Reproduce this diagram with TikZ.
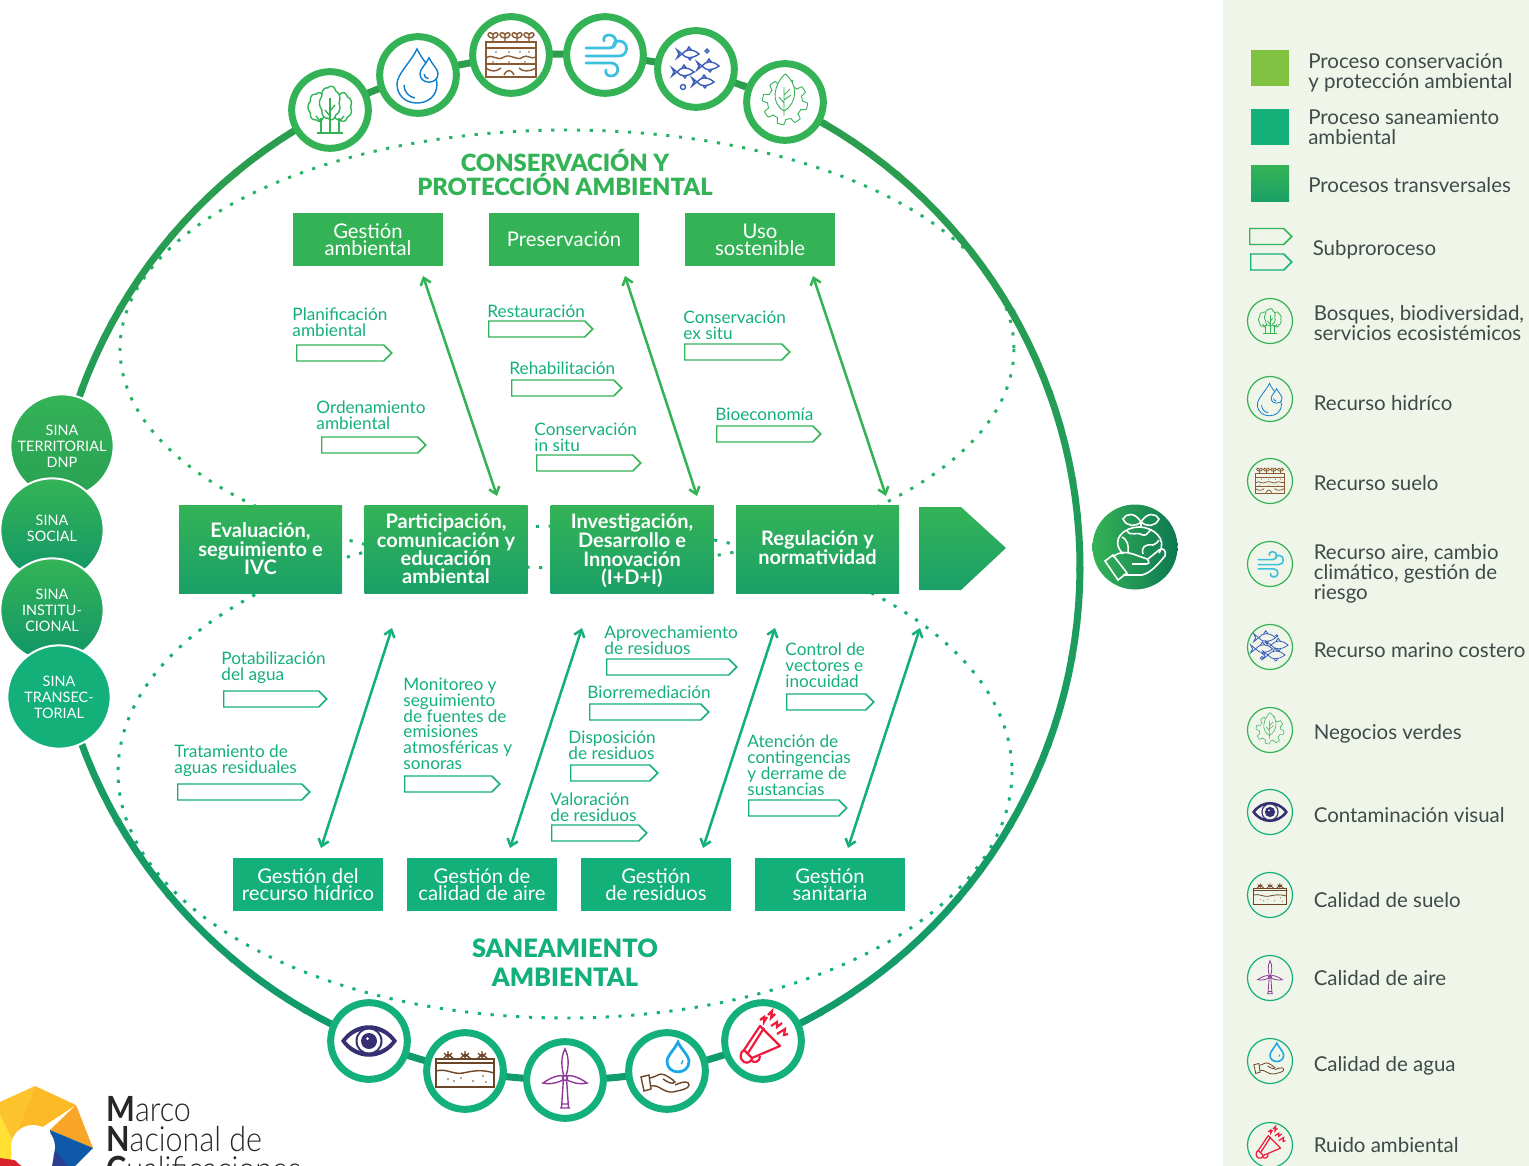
\documentclass[tikz,border=0pt]{standalone}
\usepackage{fontspec}
\setmainfont{Lato}
\newfontfamily\logofont{Lato}[UprightFont=* Light,BoldFont=* Bold]
\newfontfamily\heavyfont{Lato}[UprightFont=* Black]
\usepackage{tikz}
\usetikzlibrary{arrows.meta,positioning,calc,shapes.symbols}

\definecolor{consgreen}{HTML}{34B356}
\definecolor{sanegreen}{HTML}{13B07A}
\definecolor{darkgreen}{HTML}{1AA068}
\definecolor{panelbg}{HTML}{EFF5E8}
\definecolor{legendtext}{HTML}{3F4A4A}
\definecolor{lime}{HTML}{7FC242}
\definecolor{soilbrown}{HTML}{8A5A32}
\definecolor{dropblue}{HTML}{0F7CCB}
\definecolor{windblue}{HTML}{3DBFE0}
\definecolor{fishblue}{HTML}{3A5DB8}
\definecolor{eyeblue}{HTML}{372F73}
\definecolor{windpurple}{HTML}{8F3A98}
\definecolor{handbrown}{HTML}{6B4526}
\definecolor{lightdrop}{HTML}{1AA7E8}
\definecolor{noisered}{HTML}{ED1C3C}
\colorlet{iconbg}{white}

\newcommand{\dropshape}{(0,-27) .. controls (-6,-14) and (-20,-2) .. (-20,8) .. controls (-20,20) and (-11,27) .. (0,27) .. controls (11,27) and (20,20) .. (20,8) .. controls (20,-2) and (6,-14) .. (0,-27) -- cycle}
\newcommand{\blob}[4]{\draw[consgreen, fill=iconbg, domain=0:360, samples=97] plot ({#1+(#3+1.5*abs(sin(3.5*\x)))*cos(\x)},{#2+(#4+1.5*abs(sin(3.5*\x)))*sin(\x)}) -- cycle;}

\tikzset{
	boxtop/.style={fill=consgreen, text=white, minimum width=112.5pt, minimum height=39.75pt, align=center, inner sep=0pt, font=\fontsize{15.2}{12.9}\selectfont},
	boxbot/.style={boxtop, fill=sanegreen},
	boxmid/.style={top color=consgreen, bottom color=darkgreen, text=white, minimum width=122.25pt, minimum height=66pt, align=center, inner sep=0pt, font=\fontsize{15}{13.8}\selectfont\bfseries},
	sub/.style={draw=#1, line width=1.1pt, fill=white, signal, signal to=east, signal pointer angle=90, inner sep=0pt, minimum height=12pt, anchor=west},
	lab/.style={text=sanegreen, align=left, inner sep=0pt, anchor=north west, xshift=-.6pt, yshift=-1.1pt, font=\fontsize{12.9}{11.9}\selectfont},
	title/.style={align=center, inner sep=0pt, font=\fontsize{17.8}{18.4}\heavyfont},
	dots/.style={draw=#1, line width=2.2pt, dash pattern=on 2.4pt off 7.2pt},
	link/.style={draw=#1, line width=1.9pt, <->, >={Straight Barb[length=5pt,width=8pt]}},
	iconring/.style={circle, draw=#1, fill=white, line width=5.25pt, minimum size=57.5pt, inner sep=0pt},
	legring/.style={circle, draw=#1, line width=.9pt, minimum size=33.75pt, inner sep=0pt},
	sina/.style={circle, draw=white, line width=1.5pt, minimum size=77.5pt, inner sep=0pt, text=white, align=center, font=\fontsize{10.8}{12}\selectfont},
	legtext/.style={text=legendtext, align=left, inner sep=0pt, anchor=west, font=\fontsize{15.35}{15}\selectfont},
	legsq/.style={minimum width=28.5pt, minimum height=27pt, inner sep=0pt},
	treeicon/.pic={
		\blob{-12}{-3}{8.5}{13}
		\blob{12}{-3}{8.5}{13}
		\blob{0}{-7}{9}{15.5}
		\draw[consgreen] (-9,23) -- (-9,8) (0,23) -- (0,-12) (9,23) -- (9,8) (-13,23) -- (13,23);
		\draw[consgreen] (0,1) -- (5,-5) (0,6) -- (-5,0) (-9,12) -- (-14,6) (9,12) -- (14,6);
	},
	dropicon/.pic={
		\begin{scope}[shift={(-1,1)}]
			\draw[dropblue] \dropshape;
			\draw[dropblue] (-13,9) .. controls (-13,16) and (-8,21) .. (-2,22);
		\end{scope}
		\begin{scope}[shift={(11,-5)}, scale=.45]
			\draw[dropblue, fill=iconbg] \dropshape;
			\draw[dropblue] (-11,9) .. controls (-11,15) and (-6,19) .. (-1,19);
		\end{scope}
	},
	soilicon/.pic={
		\draw[soilbrown] (-25,-13) rectangle (25,22) (-25,-7) -- (25,-7) (-25,9) -- (25,9);
		\draw[soilbrown] (-25,3) .. controls (-18,-2) and (-14,7) .. (-7,2) .. controls (0,-2) and (6,7) .. (12,2) .. controls (16,-1) and (20,5) .. (25,2);
		\draw[soilbrown] (-25,13) .. controls (-20,17) and (-15,17) .. (-10,13) (-7,20) .. controls (-4,14) and (0,14) .. (3,20) (8,13) .. controls (12,17) and (18,17) .. (25,13);
		\foreach \sx/\sy in {-15/-3,-2/-3,9/-3,18/-3,-18/7,-2/7,14/7} \fill[soilbrown] (\sx,\sy) circle (.9);
		\foreach \sx in {-18,-6,6,18} {
			\draw[soilbrown] (\sx,-13) -- (\sx,-20) (\sx,-20) .. controls (\sx-1,-23) and (\sx-5,-23) .. (\sx-5,-20) .. controls (\sx-5,-18) and (\sx-2,-17) .. (\sx,-17);
			\draw[soilbrown] (\sx,-20) .. controls (\sx+1,-23) and (\sx+5,-23) .. (\sx+5,-20) .. controls (\sx+5,-18) and (\sx+2,-17) .. (\sx,-17);
		}
	},
	windicon/.pic={
		\draw[windblue, line cap=round, line width=1.4*\pgflinewidth] (-19,-7) -- (4,-7) .. controls (13,-7) and (13,-20) .. (4,-20) .. controls (0,-20) and (-2,-17) .. (-1,-14);
		\draw[windblue, line cap=round, line width=1.4*\pgflinewidth] (-19,1) -- (14,1) .. controls (24,1) and (24,-14) .. (14,-14) .. controls (10,-14) and (8,-11) .. (9,-9);
		\draw[windblue, line cap=round, line width=1.4*\pgflinewidth] (-19,8) -- (6,8) .. controls (15,8) and (15,21) .. (6,21) .. controls (2,21) and (0,18) .. (1,15);
	},
	fish/.pic={
		\draw[fishblue, fill=iconbg] (-2,-4) -- (0,-7) -- (3,-3) (-1,4) -- (1,6) -- (3,3);
		\draw[fishblue, fill=iconbg] (-12,-4) -- (-7,0) .. controls (-3,-5) and (3,-6) .. (10,0) .. controls (3,5) and (-3,5) .. (-7,0) -- (-12,4) -- (-10,0) -- cycle;
	},
	fishicon/.pic={
		\path (-7,-15) pic {fish} (13,-3) pic {fish} (-12,3) pic {fish} (8,13) pic {fish};
		\draw[fishblue] (11,-18) circle (1.8) (-13,18) circle (2.5);
	},
	gearicon/.pic={
		\draw[consgreen, line width=.8*\pgflinewidth, domain=0:360, samples=241] plot ({(20+2.6*max(-1,min(1,3*sin(8*\x)))*1)*cos(\x)},{(20+2.6*max(-1,min(1,3*sin(8*\x))))*sin(\x)}) -- cycle;
		\draw[consgreen, line width=.8*\pgflinewidth, fill=iconbg] (-1,9) .. controls (-15,1) and (-11,-18) .. (0,-28) .. controls (13,-19) and (13,1) .. (-1,9) -- cycle;
		\draw[consgreen, line width=.8*\pgflinewidth] (-1,14) -- (-1,-15) (-1,-7) -- (5,-13) (-1,1) -- (-6,-5) (-1,-2) -- (6,-7);
	},
	eyeicon/.pic={
		\fill[eyeblue] (-28,0) .. controls (-14,-21) and (14,-21) .. (28,0) .. controls (14,21) and (-14,21) .. (-28,0) -- cycle;
		\fill[iconbg] (-23,0) .. controls (-11,-15) and (11,-15) .. (23,0) .. controls (11,15) and (-11,15) .. (-23,0) -- cycle;
		\fill[eyeblue] (0,0) circle (13.5);
		\fill[iconbg] (0,0) circle (11.5);
		\fill[eyeblue] (0,0) circle (8);
		\fill[iconbg] (-1.5,-2.5) circle (1.5);
	},
	soil2icon/.pic={
		\draw[handbrown, line cap=round] (-29,-12) -- (29,-12) -- (29,16) -- (-29,16) -- cycle (-29,-8) -- (29,-8);
		\draw[handbrown] (-29,0) .. controls (-18,-3) and (-12,4) .. (-2,2) .. controls (8,0) and (16,-2) .. (29,2);
		\foreach \sx in {-17,0,17} {
			\draw[handbrown] (\sx,-12) -- (\sx,-20) (\sx-5,-12) -- (\sx,-17) -- (\sx+6,-12) (\sx-4,-18) -- (\sx,-14) -- (\sx+4,-18);
		}
		\foreach \dx/\dy in {-17/8,-4/7,8/10,18/5,21/11,-11/10} {\fill[handbrown] (\dx,\dy) circle (.8);}
	},
	turbineicon/.pic={
		\draw[windpurple] (-3.5,28) -- (-1.5,-2) (3.5,28) -- (1.5,-2) (-5,28) -- (5,28) (-4,24) -- (4,24);
		\draw[windpurple] (0,-31) .. controls (-5,-22) and (-3,-10) .. (-1,-4) -- (1,-4) .. controls (3,-10) and (5,-22) .. (0,-31) -- cycle;
		\draw[windpurple] (-22,3) .. controls (-12,-4) and (-5,-5) .. (-2,-4) -- (-2,0) .. controls (-6,2) and (-14,5) .. (-22,3) -- cycle;
		\draw[windpurple] (22,3) .. controls (12,-4) and (5,-5) .. (2,-4) -- (2,0) .. controls (6,2) and (14,5) .. (22,3) -- cycle;
		\draw[windpurple] (0,-2) circle (2.5);
	},
	handicon/.pic={
		\begin{scope}[shift={(11,-14)}, scale=.55]
			\draw[lightdrop, line width=1.4*\pgflinewidth] \dropshape;
			\draw[lightdrop] (6,13) .. controls (8,11) and (9,9) .. (9,6);
		\end{scope}
		\draw[handbrown] (-26,6) -- (-18,4) -- (-16,18) -- (-23,20) -- cycle;
		\draw[handbrown] (-17,7) .. controls (-10,6) and (-8,1) .. (-2,4) .. controls (2,6) and (5,8) .. (8,11) .. controls (6,14) and (0,11) .. (-4,8);
		\draw[handbrown] (-16,15) .. controls (-8,13) and (-4,22) .. (6,21) .. controls (14,19) and (22,18) .. (22,14) .. controls (22,10) and (17,10) .. (8,14);
	},
	megaicon/.pic={
		\draw[noisered, line width=1.25*\pgflinewidth, line join=round] (-3,-15) -- (17,5) -- (-11,17) -- (-19,9) -- cycle;
		\draw[noisered, line width=1.25*\pgflinewidth] (1,-13) -- (-15,12) (-19,9) .. controls (-23,11) and (-24,18) .. (-19,21) .. controls (-15,23) and (-11,20) .. (-11,17) (-12,19) .. controls (-9,23) and (-3,21) .. (-3,15);
		\draw[noisered, line width=1.25*\pgflinewidth] (-3,-21) -- (1,-24) -- (1,-19) -- (4,-24) (5,-26) -- (9,-30) -- (8,-23) -- (12,-27) (8,-15) -- (14,-19) -- (14,-14) -- (19,-18) (14,-7) -- (22,-12) -- (21,-6) -- (25,-7);
	},
	earthicon/.pic={
		\draw[white, line width=1.2pt] (-12,7) .. controls (-26,-8) and (-10,-20) .. (4,-20) .. controls (18,-20) and (33,-8) .. (24,6);
		\draw[white, line width=1.2pt] (-8,-16) .. controls (-4,-10) and (2,-16) .. (8,-12) .. controls (12,-10) and (14,-18) .. (17,-17);
		\draw[white, line width=1.2pt] (-13,-10) .. controls (-9,-8) and (-6,-4) .. (-7,6);
		\draw[white, line width=1.2pt] (8,7) .. controls (6,0) and (10,-3) .. (18,-2) .. controls (21,-3) and (23,-5) .. (24,-7);
		\draw[white, line width=1.2pt] (6,-20) -- (6,-25) .. controls (0,-35) and (-9,-34) .. (-12,-28) .. controls (-8,-20) and (0,-20) .. (6,-25) .. controls (12,-35) and (21,-34) .. (24,-28) .. controls (20,-20) and (12,-20) .. (6,-25);
		\draw[white, line width=1.2pt] (-30,14) -- (-22,8) -- (-8,26) -- (-17,33) -- cycle;
		\draw[white, line width=1.2pt] (-22,10) .. controls (-16,4) and (-8,5) .. (-2,7) -- (12,12) .. controls (15,15) and (14,17) .. (11,17) -- (-3,17);
		\draw[white, line width=1.2pt] (-12,28) -- (7,28) .. controls (16,26) and (24,16) .. (30,9) .. controls (32,3) and (27,0) .. (24,3) -- (13,12);
	},
}

\begin{document}
\begin{tikzpicture}[x=0.75pt, y=-0.75pt]
	\useasboundingbox (0,0) rectangle (1529,1166);
	\clip (0,0) rectangle (1529,1166);
	\fill[panelbg] (1223,0) rectangle (1529,1166);

	% dotted ellipses behind the boxes
	\draw[dots=consgreen!55!sanegreen] (567,349) ellipse [x radius=447, y radius=219];
	\draw[dots=sanegreen] (565,772) ellipse [x radius=447, y radius=246];

	% big ring
	\foreach \a in {-180,-170,...,170} {
		\pgfmathsetmacro{\mixv}{int(50+50*sin(\a+5)*-1)}
		\draw[draw=consgreen!\mixv!sanegreen!88!black, line width=5.25pt, domain=\a:\a+10.5, samples=6] plot ({565+515*cos(\x)},{567+513*sin(\x)});
	}

	% icons on the ring
	\foreach \n/\x/\y/\ic/\c in {bosque/330/110/treeicon/consgreen, hidrico/418/75/dropicon/consgreen, suelo/511/55/soilicon/consgreen, aire/605/55/windicon/consgreen, marino/696/69/fishicon/consgreen, verdes/785/102/gearicon/consgreen, visual/369/1041/eyeicon/sanegreen, calsuelo/465/1071/soil2icon/sanegreen, calaire/565/1080/turbineicon/sanegreen, calagua/667/1071/handicon/sanegreen, ruido/763/1041/megaicon/sanegreen} {
		\node[iconring=\c] (\n) at (\x,\y) {};
		\path (\n.center) pic[line width=1.05pt] {\ic};
	}

	% sina circles
	\node[sina, top color=consgreen, bottom color=consgreen!80!sanegreen!90!black] (territorial) at (62,446) {SINA\\TERRITORIAL\\DNP};
	\node[sina, top color=consgreen, bottom color=sanegreen!85!black] (social) at (52,530) {\raisebox{3pt}{SINA}\\\raisebox{3pt}{SOCIAL}};
	\node[sina, top color=consgreen, bottom color=sanegreen!85!black] (institucional) at (52,610) {SINA\\INSTITU-\\CIONAL};
	\node[sina, fill=sanegreen] (transectorial) at (59,697) {SINA\\TRANSEC-\\TORIAL};

	% titles
	\node[title, text=consgreen] (conservacion) at (565,172.5) {CONSERVACIÓN Y\\PROTECCIÓN AMBIENTAL};
	\node[title, text=sanegreen, font=\fontsize{19}{21.7}\heavyfont] (saneamiento) at (565,963) {SANEAMIENTO\\AMBIENTAL};

	% boxes
	\node[boxtop] (gestamb) at (368,239.5) {Gestión\\ambiental};
	\node[boxtop] (preserv) at (564,239.5) {Preservación};
	\node[boxtop] (uso) at (760,239.5) {Uso\\sostenible};
	\node[boxmid] (evaluacion) at (260.5,549) {Evaluación,\\seguimiento e\\IVC};
	\node[boxmid] (particip) at (446,549) {Participación,\\comunicación y\\educación\\ambiental};
	\node[boxmid] (investig) at (632,549) {Investigación,\\Desarrollo e\\Innovación\\\smash{(I+D+I)}};
	\node[boxmid] (regul) at (817.5,549) {\raisebox{2.2pt}{Regulación y}\\\raisebox{2.2pt}{normatividad}};
	\node[boxbot] (hidrico2) at (308,884.5) {Gestión del\\recurso hídrico};
	\node[boxbot] (calaire2) at (482,884.5) {Gestión de\\calidad de aire};
	\node[boxbot] (residuos) at (656,884.5) {Gestión\\de residuos};
	\node[boxbot] (sanitaria) at (830,884.5) {Gestión\\sanitaria};

	% process arrow
	\shade[top color=consgreen, bottom color=darkgreen] (919,507) -- (961,507) -- (1006,548) -- (961,590) -- (919,590) -- cycle;
	\node[circle, minimum size=63.75pt, inner sep=0pt, left color=consgreen, right color=black!20!sanegreen!85!black] (earth) at (1135,547) {};
	\path (earth.center) pic {earthicon};

	% arrows
	\coordinate (a1) at (423,276); \coordinate (b1) at (497,496);
	\coordinate (a2) at (625,276); \coordinate (b2) at (697,496);
	\coordinate (a3) at (813,276); \coordinate (b3) at (886,496);
	\coordinate (c1) at (392,628); \coordinate (d1) at (321,848);
	\coordinate (c2) at (582,628); \coordinate (d2) at (510,848);
	\coordinate (c3) at (775,628); \coordinate (d3) at (703,848);
	\coordinate (c4) at (920,628); \coordinate (d4) at (848,848);
	\foreach \i in {1,2,3} \draw[link=consgreen] (a\i) -- (b\i);
	\foreach \i in {1,2,3,4} \draw[link=sanegreen] (c\i) -- (d\i);

	% subprocesses
	\foreach \n/\x/\y/\w/\t/\tx/\ty in {
		planif/296/353/95/{Planificación\\ambiental}/293/306,
		orden/321/445/104/{Ordenamiento\\ambiental}/317/399,
		restaur/488/329/104/{Restauración}/488/303,
		rehab/511/388/110/{Rehabilitación}/510/360,
		insitu/536/463/104/{Conservación\\in situ}/535/421,
		exsitu/684/352/105/{Conservación\\ex situ}/684/309,
		bioeco/716/434/104/{Bioeconomía}/716/406} {
		\node[sub=consgreen, minimum width=\w*0.75pt] (\n) at (\x,\y) {};
		\node[lab] (\n lab) at (\tx,\ty) {\t};
	}
	\foreach \n/\x/\y/\w/\t/\tx/\ty in {
		potab/223/699/103/{Potabilización\\del agua}/222/650,
		tratam/177/792/132/{Tratamiento de\\aguas residuales}/175/743,
		monit/404/784/95/{Monitoreo y\\seguimiento\\de fuentes de\\emisiones\\atmosféricas y\\sonoras}/404/676,
		aprov/606/667/130/{Aprovechamiento\\de residuos}/605/624,
		biorr/589/712/119/{Biorremediación}/588/684,
		dispos/570/773/87/{Disposición\\de residuos}/569/729,
		valor/551/833/95/{Valoración\\de residuos}/551/791,
		control/786/702/87/{Control de\\vectores e\\inocuidad}/786/641,
		atenc/748/808/98/{Atención de\\contingencias\\y derrame de\\sustancias}/748/733} {
		\node[sub=sanegreen, minimum width=\w*0.75pt] (\n) at (\x,\y) {};
		\node[lab] (\n lab) at (\tx,\ty) {\t};
	}

	% legend
	\node[legsq, fill=lime] (sq1) at (1270,68) {};
	\node[legsq, fill=sanegreen] (sq2) at (1270,127) {};
	\node[legsq, top color=consgreen, bottom color=darkgreen] (sq3) at (1270,184) {};
	\node[sub=consgreen, minimum width=31.5pt, fill=none] (subleg1) at (1249,236.5) {};
	\node[sub=sanegreen, minimum width=30.75pt, fill=none] (subleg2) at (1250,262) {};
	\foreach \n/\x/\y/\t in {sq1t/1308/72.5/{Proceso conservación\\y protección ambiental}, sq2t/1308/127/{Proceso saneamiento\\ambiental}, sq3t/1308/185/{Procesos transversales}, subt/1312.5/250/{Subproroceso}} {
		\node[legtext] (\n) at (\x,\y) {\t};
	}
	\begin{scope}
		\colorlet{iconbg}{panelbg}
		\foreach \n/\y/\ic/\c/\s/\ty/\t in {
			lbosque/321/treeicon/consgreen/.52/323/{Bosques, biodiversidad,\\servicios ecosistémicos},
			lhidrico/399/dropicon/consgreen/.6/403/{Recurso hidríco},
			lsuelo/481/soilicon/consgreen/.58/483/{Recurso suelo},
			laire/564/windicon/consgreen/.62/574/{Recurso aire, cambio\\climático, gestión de\\riesgo},
			lmarino/647/fishicon/consgreen/.62/650/{Recurso marino costero},
			lverdes/730/gearicon/consgreen/.62/734/{Negocios verdes},
			lvisual/812/eyeicon/sanegreen/.64/815/{Contaminación visual},
			lcalsuelo/895/soil2icon/sanegreen/.58/900/{Calidad de suelo},
			lcalaire/978/turbineicon/sanegreen/.56/978/{Calidad de aire},
			lcalagua/1061/handicon/sanegreen/.62/1066/{Calidad de agua},
			lruido/1145/megaicon/sanegreen/.62/1145/{Ruido ambiental}} {
			\node[legring=\c] (\n) at (1270,\y) {};
			\path (\n.center) pic[scale=\s, line width=.6pt] {\ic};
			\node[legtext] (\n t) at (1313.5,\ty) {\t};
		}
	\end{scope}

	% logo
	\definecolor{logoa}{HTML}{FDC32D}
	\definecolor{logob}{HTML}{FFE033}
	\definecolor{logoc}{HTML}{FDBA27}
	\definecolor{logod}{HTML}{F9A528}
	\definecolor{logoe}{HTML}{0F5AA8}
	\definecolor{logof}{HTML}{2A3F8F}
	\definecolor{logog}{HTML}{D8232A}
	\fill[logoa] (0,1102) -- (35,1086) -- (13,1142) -- (0,1115) -- cycle;
	\fill[logob] (0,1115) -- (13,1142) -- (10,1166) -- (0,1160) -- cycle;
	\fill[logog] (0,1158) -- (14,1160) -- (28,1166) -- (0,1166) -- cycle;
	\fill[logoc] (35,1086) -- (76,1105) -- (44,1126) -- (13,1142) -- cycle;
	\fill[logod] (76,1105) -- (93,1148) -- (50,1130) -- cycle;
	\fill[logoe] (93,1148) -- (75,1166) -- (55,1166) -- (50,1130) -- cycle;
	\fill[logof] (52,1166) -- (55,1150) -- (68,1166) -- cycle;
	\fill[white] (33,1147) circle (22);
	\node[text=black!85, align=left, inner sep=0pt, anchor=north west, transform shape, xscale=.88, font=\logofont\fontsize{26}{22.6}\selectfont] (logo) at (106,1096) {\textbf{M}arco\\\textbf{N}acional de\\\textbf{C}ualificaciones};
\end{tikzpicture}
\end{document}
